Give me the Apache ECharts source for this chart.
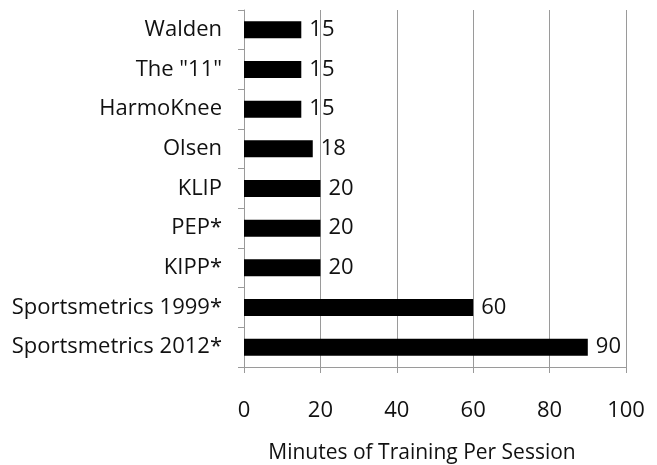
<!DOCTYPE html>
<html><head><meta charset="utf-8">
<script src="https://cdn.jsdelivr.net/npm/echarts@6/dist/echarts.min.js"></script>
<style>html,body{margin:0;padding:0;background:#fff}#c{width:657px;height:465px}</style>
</head><body><div id="c"></div>
<script>
var categories = ['Walden', 'The "11"', 'HarmoKnee', 'Olsen', 'KLIP', 'PEP*', 'KIPP*', 'Sportsmetrics 1999*', 'Sportsmetrics 2012*'];
var minutes = [15, 15, 15, 18, 20, 20, 20, 60, 90];
var xTicks = [0, 20, 40, 60, 80, 100];
var FONT = 'Open Sans';
var chart = echarts.init(document.getElementById('c'), null, {renderer: 'canvas'});
chart.setOption({
  animation: false,
  backgroundColor: '#fff',
  grid: {left: 244, right: 31, top: 10, bottom: 98, containLabel: false, outerBoundsMode: 'none'},
  xAxis: {
    type: 'value', min: xTicks[0], max: xTicks[xTicks.length - 1], interval: 20,
    name: 'Minutes of Training Per Session', nameLocation: 'middle', nameGap: 76,
    nameTextStyle: {fontFamily: FONT, fontSize: 21, color: '#111', padding: [0, 26, 0, 0]},
    axisLine: {show: true, lineStyle: {color: '#9a9a9a', width: 1}},
    axisTick: {show: true, length: 6, lineStyle: {color: '#9a9a9a'}},
    axisLabel: {fontFamily: FONT, fontSize: 22, color: '#111', margin: 33},
    splitLine: {show: true, lineStyle: {color: '#9a9a9a', width: 1}}
  },
  yAxis: {
    type: 'category', data: categories, inverse: true,
    axisLine: {show: true, lineStyle: {color: '#9a9a9a', width: 1}},
    axisTick: {show: true, length: 6, lineStyle: {color: '#9a9a9a'}},
    axisLabel: {fontFamily: FONT, fontSize: 22, color: '#111', margin: 22}
  },
  series: [{
    type: 'bar', data: minutes, barCategoryGap: '57%',
    itemStyle: {color: '#000'},
    label: {show: true, position: 'right', distance: 8, fontFamily: FONT, fontSize: 22, color: '#111'}
  }]
});
</script></body></html>
